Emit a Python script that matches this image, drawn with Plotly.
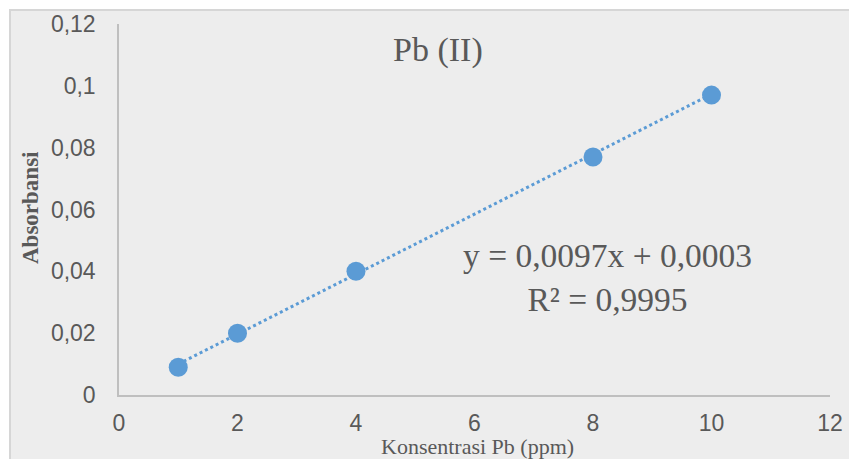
import plotly.graph_objects as go

# Data
konsentrasi = [1, 2, 4, 8, 10]
absorbansi = [0.009, 0.020, 0.040, 0.077, 0.097]
slope = 0.0097
intercept = 0.0003
trend_x = [konsentrasi[0], konsentrasi[-1]]
trend_y = [slope * x + intercept for x in trend_x]

x_ticks = [0, 2, 4, 6, 8, 10, 12]
y_ticks = [0, 0.02, 0.04, 0.06, 0.08, 0.1, 0.12]
y_ticktext = ["0", "0,02", "0,04", "0,06", "0,08", "0,1", "0,12"]

BLUE = "#5B9BD5"
GRAY = "#595959"

fig = go.Figure()
fig.add_trace(go.Scatter(
    x=trend_x, y=trend_y, mode="lines",
    line=dict(color=BLUE, width=3, dash="dot"),
    hoverinfo="skip", showlegend=False))
fig.add_trace(go.Scatter(
    x=konsentrasi, y=absorbansi, mode="markers",
    marker=dict(color=BLUE, size=19),
    showlegend=False))

W, H = 849, 459
L, R, T, B = 119, 19, 24, 64
pw, ph = W - L - R, H - T - B

def px(xp):
    return (xp - L) / pw

def py(yp):
    return (H - B - yp) / ph

fig.add_shape(type="rect", xref="paper", yref="paper",
              x0=px(10), x1=px(W + 10), y0=py(H + 10), y1=py(10),
              fillcolor="#EDEDED", line=dict(color="#D6D6D6", width=2),
              layer="below")

def note(text, x, y, size, angle=0):
    return dict(text=text, xref="paper", yref="paper", x=px(x), y=py(y),
                xanchor="center", yanchor="middle", showarrow=False,
                align="center", textangle=angle,
                font=dict(family="Liberation Serif", size=size, color=GRAY))

fig.update_layout(
    width=W, height=H,
    margin=dict(l=L, r=R, t=T, b=B),
    paper_bgcolor="white", plot_bgcolor="rgba(0,0,0,0)",
    separators=", ",
    font=dict(family="Liberation Sans, Arial", color=GRAY),
    xaxis=dict(range=[0, 12], tickvals=x_ticks, showgrid=False, zeroline=False,
               showline=True, linecolor="#BFBFBF", linewidth=1.5,
               ticks="", tickfont=dict(size=23, color=GRAY),
               ticklabelstandoff=7, automargin=False),
    yaxis=dict(range=[0, 0.12], tickvals=y_ticks, ticktext=y_ticktext,
               showgrid=False, zeroline=False,
               showline=True, linecolor="#BFBFBF", linewidth=1.5,
               ticks="", tickfont=dict(size=23, color=GRAY),
               ticklabelstandoff=17, automargin=False),
    annotations=[
        note("Pb (II)", 438, 50, 34),
        note("y = 0,0097x + 0,0003<br>R² = 0,9995", 607, 277, 33.5),
        note("Konsentrasi Pb (ppm)", 477, 446.5, 22),
        note("<b>Absorbansi</b>", 30, 208, 23, -90),
    ],
)

fig.write_html("out.html", post_script="document.body.style.margin='0';",
               config={"displayModeBar": False})
